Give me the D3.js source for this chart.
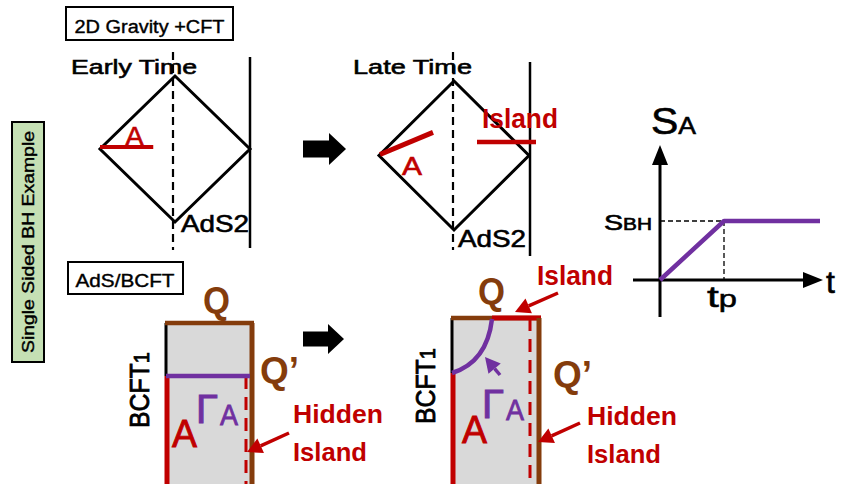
<!DOCTYPE html>
<html><head><meta charset="utf-8">
<script src="https://cdn.jsdelivr.net/npm/d3@7"></script>
<style>body{margin:0;background:#fff}svg{display:block}</style>
</head><body>
<script>
// ---- content / data ----
const sectionTitles = ["2D Gravity +CFT", "AdS/BCFT"];
const sideLabel = "Single Sided BH Example";
const phaseLabels = ["Early Time", "Late Time"];
const regionLabels = ["A", "Island", "AdS2", "Q", "Q\u2019", "Hidden", "BCFT", "\u0393"];
const diamondCorners = [[0, 1], [1, 0], [0, -1], [-1, 0]];
const curveT = [0, 1, 2.5];       // time (in units of t_p)
const curveS = [0, 1, 1];         // S_A in units of S_BH
const axisLabels = {y: ["S", "A"], x: "t"};
const tickLabels = {y: ["S", "BH"], x: ["t", "p"]};

const RED = "#C00000", BROWN = "#843C0C", PURPLE = "#7030A0", GRAY = "#D9D9D9", GREEN = "#C5E0B4";
const FONT = "'Liberation Sans', Arial, sans-serif";

const svg = d3.select("body").append("svg").attr("width", 843).attr("height", 484);

function txt(x, y, s, o = {}) {
  const fill = o.fill || "#000";
  const t = svg.append("text").attr("x", x).attr("y", y).text(s)
    .attr("font-family", FONT).attr("font-size", o.size || 18)
    .attr("font-weight", o.weight || "normal").attr("fill", fill)
    .attr("text-anchor", o.anchor || "start");
  if (o.weight !== "bold") t.attr("stroke", fill).attr("stroke-width", o.sw == null ? 0.6 : o.sw);
  if (o.len) t.attr("textLength", o.len).attr("lengthAdjust", "spacingAndGlyphs");
  if (o.rot) t.attr("transform", `rotate(${o.rot},${x},${y})`);
  return t;
}
function line(x1, y1, x2, y2, color, w, dash) {
  const l = svg.append("line").attr("x1", x1).attr("y1", y1).attr("x2", x2).attr("y2", y2)
    .attr("stroke", color).attr("stroke-width", w);
  if (dash) l.attr("stroke-dasharray", dash);
  return l;
}
function pointer(x1, y1, x2, y2, color) {
  const ang = Math.atan2(y2 - y1, x2 - x1), L = 15, W = 8;
  const bx = x2 - L * Math.cos(ang), by = y2 - L * Math.sin(ang);
  line(x1, y1, bx, by, color, 3.5);
  const nx = -Math.sin(ang), ny = Math.cos(ang);
  svg.append("polygon").attr("points",
    [[x2, y2], [bx + W * nx, by + W * ny], [bx - W * nx, by - W * ny]].map(p => p.join(",")).join(" "))
    .attr("fill", color);
}
function blockArrow(x0, cy, x1, x2, bh, hh) {
  svg.append("polygon").attr("points", [
    [x0, cy - bh], [x1, cy - bh], [x1, cy - hh], [x2, cy], [x1, cy + hh], [x1, cy + bh], [x0, cy + bh]
  ].map(p => p.join(",")).join(" ")).attr("fill", "#000");
}

// ---- side label ----
svg.append("rect").attr("x", 12).attr("y", 122).attr("width", 32).attr("height", 240)
  .attr("fill", GREEN).attr("stroke", "#000").attr("stroke-width", 2);
txt(34, 242, sideLabel, {size: 17, anchor: "middle", len: 222, rot: -90, sw: 0.4});

// ---- section title boxes ----
svg.append("rect").attr("x", 66).attr("y", 7).attr("width", 167).attr("height", 33)
  .attr("fill", "#fff").attr("stroke", "#000").attr("stroke-width", 2);
txt(149.5, 33, sectionTitles[0], {size: 18, anchor: "middle", len: 150, sw: 0.4});
svg.append("rect").attr("x", 68).attr("y", 262).attr("width", 115).attr("height", 32)
  .attr("fill", "#fff").attr("stroke", "#000").attr("stroke-width", 2);
txt(125, 287, sectionTitles[1], {size: 18, anchor: "middle", len: 99, sw: 0.4});

// ---- Penrose diamonds ----
const panels = [
  {cx: 175, cy: 149, hw: 75, hh: 73, dashX: 173, wallX: 250, wallTop: 57, wallBot: 248,
   label: phaseLabels[0], lx: 71, llen: 126, adsX: 181, adsY: 232},
  {cx: 454, cy: 155.5, hw: 75, hh: 74.5, dashX: 453, wallX: 530, wallTop: 62, wallBot: 256,
   label: phaseLabels[1], lx: 353, llen: 119, adsX: 458, adsY: 247}
];
panels.forEach((p, i) => {
  const sx = d3.scaleLinear().domain([-1, 1]).range([p.cx - p.hw, p.cx + p.hw]);
  const sy = d3.scaleLinear().domain([-1, 1]).range([p.cy + p.hh, p.cy - p.hh]);
  line(p.dashX, 52, p.dashX, 250, "#000", 2.2, "8,5");
  line(p.wallX, p.wallTop, p.wallX, p.wallBot, "#000", 2.5);
  svg.append("path").attr("d", d3.line().x(d => sx(d[0])).y(d => sy(d[1]))(diamondCorners) + "Z")
    .attr("fill", "none").attr("stroke", "#000").attr("stroke-width", 3).attr("stroke-linejoin", "miter");
  txt(p.lx, 74, p.label, {size: 21, len: p.llen});
  txt(p.adsX, p.adsY, regionLabels[2], {size: 24, len: 68});
  if (i === 0) {
    line(sx(-1), sy(0) - 2, sx(-0.29), sy(0) - 2, RED, 4);
    txt(125, 146, regionLabels[0], {size: 27, fill: RED, len: 19});
  } else {
    line(sx(-1) + 1, sy(0) - 1, sx(-0.28), sy(0.31), RED, 5);
    txt(402, 175, regionLabels[0], {size: 25, fill: RED, len: 20});
    line(477, 142, 536, 142, RED, 4.5);
    txt(482, 128, regionLabels[1], {size: 27, weight: "bold", fill: RED, len: 76});
  }
});
blockArrow(303, 149, 329, 346, 8.5, 16);

// ---- S_A vs t graph ----
const tScale = d3.scaleLinear().domain([0, 1]).range([660, 724]);
const sScale = d3.scaleLinear().domain([0, 1]).range([280, 221]);
line(tScale(0), 317, tScale(0), 162, "#000", 3);
svg.append("polygon").attr("points", `${tScale(0)},145 ${tScale(0) - 8},165 ${tScale(0) + 8},165`).attr("fill", "#000");
line(633, sScale(0), 805, sScale(0), "#000", 3);
svg.append("polygon").attr("points", `823,${sScale(0)} 803,${sScale(0) - 8} 803,${sScale(0) + 8}`).attr("fill", "#000");
line(tScale(0), sScale(1), tScale(1), sScale(1), "#000", 1.3, "5,3");
line(tScale(1), sScale(1), tScale(1), sScale(0), "#000", 1.3, "5,3");
svg.append("path").attr("d", d3.line().x((d, i) => tScale(curveT[i])).y(d => sScale(d))(curveS))
  .attr("fill", "none").attr("stroke", PURPLE).attr("stroke-width", 4.5).attr("stroke-linejoin", "round");
// labels
const ya = txt(651, 134, "", {size: 37, len: 45});
ya.append("tspan").text(axisLabels.y[0]);
ya.append("tspan").attr("font-size", 24).text(axisLabels.y[1]);
txt(826, 293, axisLabels.x, {size: 32, sw: 0.6});
const yt = txt(604, 230, "", {size: 22, len: 48});
yt.append("tspan").text(tickLabels.y[0]);
yt.append("tspan").attr("font-size", 16).text(tickLabels.y[1]);
const xt = txt(707, 307, "", {size: 30, len: 30, sw: 0.5});
xt.append("tspan").text(tickLabels.x[0]);
xt.append("tspan").attr("font-size", 23).text(tickLabels.x[1]);

// ---- AdS/BCFT strips ----
function strip(o) {
  svg.append("rect").attr("x", o.L).attr("y", o.T).attr("width", o.R - o.L).attr("height", 484 - o.T).attr("fill", GRAY);
  line(o.L, o.T, o.L, o.aTop, "#000", 3);
  line(o.dashX, o.dashTop, o.dashX, 484, RED, 3, "13,8");
  line(o.L - 1, o.T, o.R + 2, o.T, BROWN, 4.5);
  if (o.islandFrom) line(o.islandFrom, o.T, o.R + 2, o.T, RED, 5);
  line(o.R, o.T, o.R, 484, BROWN, 5);
  line(o.L + 1, o.aTop, o.L + 1, 484, RED, 5);
}
// left strip (early)
strip({L: 166, R: 252, T: 323, aTop: 376, dashX: 246, dashTop: 376});
line(166, 376, 250, 376, PURPLE, 4.5);
// right strip (late)
strip({L: 452, R: 539, T: 318, aTop: 373, dashX: 530, dashTop: 318, islandFrom: 492});
svg.append("path").attr("d", "M452,373 Q487,362 492,319").attr("fill", "none").attr("stroke", PURPLE).attr("stroke-width", 4.5);
pointer(500, 375, 485, 357, PURPLE);

// strip labels
[
  {qx: 203, qy: 313, q2x: 260, q2y: 383, gx: 196, gy: 423, ax: 220, ay: 425, Ax: 172, Ay: 447,
   bx: 149, by: 390, hx: 293, hy: 423, arr: [289, 433, 247, 452]},
  {qx: 478, qy: 304, q2x: 553, q2y: 387, gx: 482, gy: 418, ax: 506, ay: 420, Ax: 462, Ay: 443,
   bx: 435, by: 386, hx: 587, hy: 425, arr: [580, 423, 538, 442]}
].forEach(s => {
  txt(s.qx, s.qy, regionLabels[3], {size: 36, weight: "bold", fill: BROWN, len: 27});
  txt(s.q2x, s.q2y, regionLabels[4], {size: 36, weight: "bold", fill: BROWN, len: 39});
  txt(s.gx, s.gy, regionLabels[7], {size: 40, fill: PURPLE, len: 22, sw: 1.0});
  txt(s.ax, s.ay, regionLabels[0], {size: 29, fill: PURPLE, len: 18, sw: 0.8});
  txt(s.Ax, s.Ay, regionLabels[0], {size: 38, fill: RED, len: 25, sw: 0.9});
  const b = txt(s.bx, s.by, "", {size: 27, anchor: "middle", rot: -90, len: 76, sw: 0.8});
  b.append("tspan").text(regionLabels[6]);
  b.append("tspan").attr("font-size", 22).text("1");
  txt(s.hx, s.hy, regionLabels[5], {size: 25, weight: "bold", fill: RED, len: 90});
  txt(s.hx, s.hy + 38, regionLabels[1], {size: 25, weight: "bold", fill: RED, len: 74});
  pointer(s.arr[0], s.arr[1], s.arr[2], s.arr[3], RED);
});
txt(537, 285, regionLabels[1], {size: 27, weight: "bold", fill: RED, len: 76});
pointer(558, 293, 515, 312, RED);
blockArrow(303, 339, 328, 344, 7.5, 15);
</script>
</body></html>
